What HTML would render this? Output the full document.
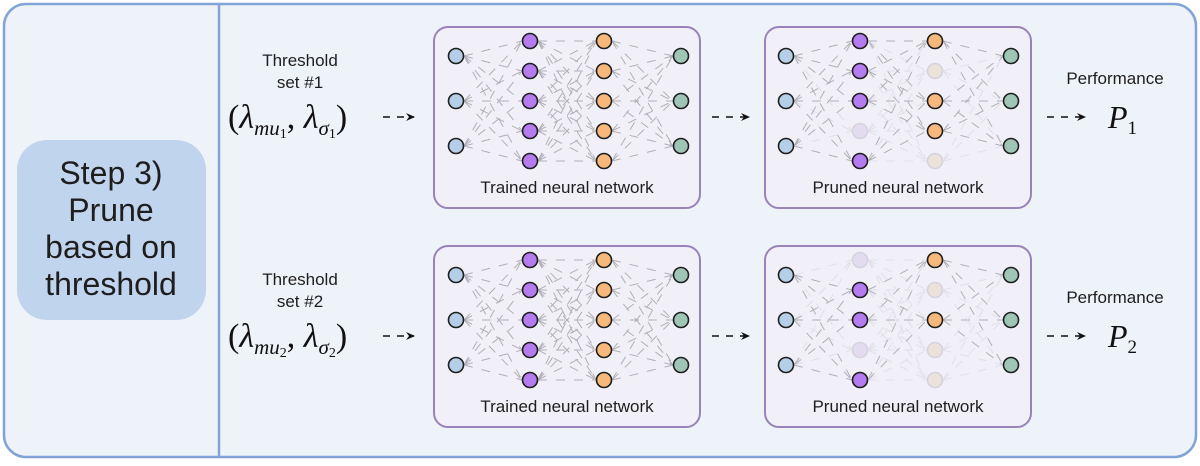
<!DOCTYPE html>
<html><head><meta charset="utf-8"><style>
body{margin:0;width:1200px;height:461px;background:#fff;overflow:hidden;font-family:"Liberation Sans",sans-serif}
</style></head><body>
<svg id="s" width="1200" height="461" xmlns="http://www.w3.org/2000/svg">
<defs><marker id="ah" markerWidth="10" markerHeight="10" refX="8" refY="5" orient="auto" markerUnits="userSpaceOnUse"><path d="M0,1 L9,5 L0,9 L3,5 Z" fill="#111"/></marker></defs>
<rect x="4" y="4" width="1192" height="453" rx="22" fill="#eef2f9" stroke="#82a3d6" stroke-width="2.5"/>
<line x1="219" y1="5" x2="219" y2="456" stroke="#82a3d6" stroke-width="2.5"/>
<rect x="17" y="140" width="189" height="180" rx="30" fill="#c1d4ee"/>
<g font-size="32" fill="#1e1e1e" text-anchor="middle">
<text x="111" y="184">Step 3)</text><text x="111" y="221">Prune</text><text x="111" y="258">based on</text><text x="111" y="295">threshold</text></g>
<g font-size="17" fill="#1e1e1e" text-anchor="middle">
<text x="300" y="66">Threshold</text><text x="300" y="88">set #1</text>
<text x="300" y="285">Threshold</text><text x="300" y="307">set #2</text>
<text x="1115" y="84">Performance</text><text x="1115" y="303">Performance</text></g>
<g font-family="'Liberation Serif',serif" fill="#111" font-style="italic">
<text x="228" y="128" font-size="34"><tspan font-style="normal">(</tspan>λ<tspan font-size="21" dy="7">mu</tspan><tspan font-size="14" dy="3" font-style="normal">1</tspan><tspan dy="-10" font-style="normal">, </tspan>λ<tspan font-size="21" dy="7">σ</tspan><tspan font-size="14" dy="3" font-style="normal">1</tspan><tspan dy="-10" font-style="normal">)</tspan></text>
<text x="228" y="347" font-size="34"><tspan font-style="normal">(</tspan>λ<tspan font-size="21" dy="7">mu</tspan><tspan font-size="14" dy="3" font-style="normal">2</tspan><tspan dy="-10" font-style="normal">, </tspan>λ<tspan font-size="21" dy="7">σ</tspan><tspan font-size="14" dy="3" font-style="normal">2</tspan><tspan dy="-10" font-style="normal">)</tspan></text>
<text x="1108" y="128" font-size="32">P<tspan font-size="19" dy="6" font-style="normal">1</tspan></text>
<text x="1108" y="347" font-size="32">P<tspan font-size="19" dy="6" font-style="normal">2</tspan></text>
</g>
<g id="nets"></g>
</svg>
<script>
var g=document.getElementById('nets'),NS='http://www.w3.org/2000/svg';
function el(t,a,p){var e=document.createElementNS(NS,t);for(var k in a)e.setAttribute(k,a[k]);(p||g).appendChild(e);return e}
function arrow(x1,x2,y){el('line',{x1:x1,y1:y,x2:x2,y2:y,stroke:'#111','stroke-width':1.6,'stroke-dasharray':'7 7','marker-end':'url(#ah)'})}
[0,219].forEach(function(o){arrow(383,414,117+o);arrow(712,749,117+o);arrow(1047,1085,117+o)});
var cols=[['#b6cfe8',[56,101,146]],['#b57cf0',[41,71,101,131,161]],['#f7b87b',[41,71,101,131,161]],['#9fc5b6',[56,101,146]]];
var faded={purple:'#e3dcf1',orange:'#ebe2dc'};
function net(x0,oy,xs,label,fade){
 el('rect',{x:x0,y:27+oy,width:266,height:181,rx:14,fill:'#f1f0f9',stroke:'#9a83b8','stroke-width':2});
 for(var c=0;c<3;c++){var a=cols[c][1],b=cols[c+1][1];
  a.forEach(function(ya,i){b.forEach(function(yb,j){
   var dim=fade&&(fade[c+','+i]||fade[(c+1)+','+j]);
   el('line',{x1:xs[c]+8,y1:ya+oy,x2:xs[c+1]-8,y2:yb+oy,stroke:dim?'#e0dfe7':'#b0b0b4','stroke-width':1,'stroke-dasharray':'9 9'});
  })})}
 cols.forEach(function(cc,c){cc[1].forEach(function(y,i){var f=fade&&fade[c+','+i];
  el('circle',{cx:xs[c],cy:y+oy,r:7.5,fill:f?(c==1?faded.purple:faded.orange):cc[0],stroke:f?'#d6d2de':'#1e1e1e','stroke-width':1.6});})});
 var t=el('text',{x:x0+133,y:193+oy,'text-anchor':'middle','font-size':17,fill:'#1e1e1e'});t.textContent=label;
}
var tx=[456,530,604,681],px=[786,860,935,1011];
net(434,0,tx,'Trained neural network');
net(765,0,px,'Pruned neural network',{'1,3':1,'2,1':1,'2,4':1});
net(434,219,tx,'Trained neural network');
net(765,219,px,'Pruned neural network',{'1,0':1,'1,3':1,'2,1':1,'2,3':1,'2,4':1});
</script>
</body></html>
